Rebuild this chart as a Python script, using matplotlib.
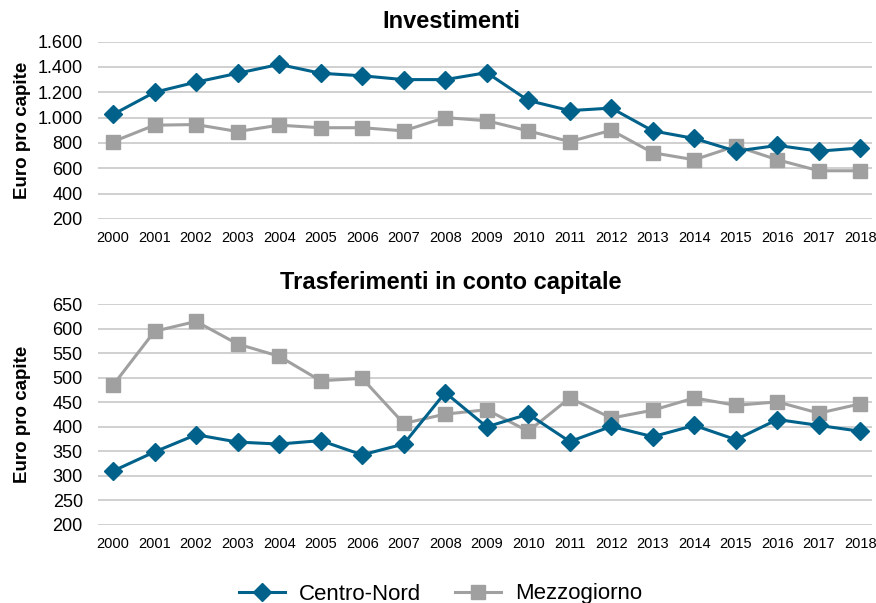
import numpy as np
import matplotlib
matplotlib.use("Agg")
import matplotlib.pyplot as plt

plt.rcParams['font.family'] = ['Liberation Sans', 'DejaVu Sans']

years = list(range(2000, 2019))

inv_cn = [1025, 1200, 1280, 1350, 1420, 1350, 1330, 1300, 1300, 1355,
          1135, 1055, 1075, 895, 835, 735, 780, 735, 760]
inv_mz = [810, 940, 945, 890, 940, 920, 920, 895, 1000, 975,
          895, 810, 900, 722, 667, 775, 667, 580, 580]

tr_cn = [310, 349, 384, 369, 365, 372, 343, 365, 470, 400,
         426, 370, 401, 380, 403, 374, 415, 403, 391]
tr_mz = [485, 595, 615, 569, 544, 494, 499, 407, 426, 435,
         391, 459, 418, 434, 459, 444, 451, 428, 447]

blue = '#00628b'
gray = '#a0a0a0'

fig = plt.figure(figsize=(8.76, 6.03), dpi=100)
ax1 = fig.add_axes([0.112, 0.637, 0.883, 0.294])
ax2 = fig.add_axes([0.112, 0.1294, 0.883, 0.366])


def style(ax, lo, hi, step, fmt):
    for s in ax.spines.values():
        s.set_visible(False)
    ticks = np.arange(lo, hi + 1, step)
    ax.set_yticks(ticks)
    ax.set_yticklabels([fmt(t) for t in ticks], fontsize=13)
    ax.set_ylim(lo, hi)
    ax.set_xlim(1999.64, 2018.27)
    ax.set_xticks(years)
    ax.set_xticklabels([str(y) for y in years], fontsize=10.5)
    ax.tick_params(axis='x', length=0, pad=9)
    ax.tick_params(axis='y', length=0, pad=11)
    ax.grid(axis='y', color='#c8c8c8', linewidth=1.2)
    ax.set_axisbelow(True)
    ax.set_ylabel('Euro pro capite', fontsize=13.5, fontweight='bold')
    ax.yaxis.set_label_coords(-0.087, 0.5)


def dots(v):
    return f"{int(v):,}".replace(',', '.')


ax1.plot(years, inv_mz, color=gray, lw=2.2, marker='s', ms=10, label='Mezzogiorno')
ax1.plot(years, inv_cn, color=blue, lw=2.2, marker='D', ms=9.5, label='Centro-Nord')
style(ax1, 200, 1600, 200, dots)

ax2.plot(years, tr_mz, color=gray, lw=2.2, marker='s', ms=10, label='Mezzogiorno')
ax2.plot(years, tr_cn, color=blue, lw=2.2, marker='D', ms=9.5, label='Centro-Nord')
style(ax2, 200, 650, 50, dots)

fig.text(0.515, 1 - 21 / 603, 'Investimenti', ha='center', va='center',
         fontsize=17, fontweight='bold')
fig.text(0.515, 1 - 282 / 603, 'Trasferimenti in conto capitale', ha='center',
         va='center', fontsize=17, fontweight='bold')

h, l = ax1.get_legend_handles_labels()
fig.legend(h[::-1], l[::-1], loc='center', bbox_to_anchor=(0.503, 1 - 594 / 603),
           ncol=2, frameon=False, fontsize=16, handlelength=2.1,
           handletextpad=0.63, columnspacing=1.5)

fig.savefig('out.png', dpi=100)
